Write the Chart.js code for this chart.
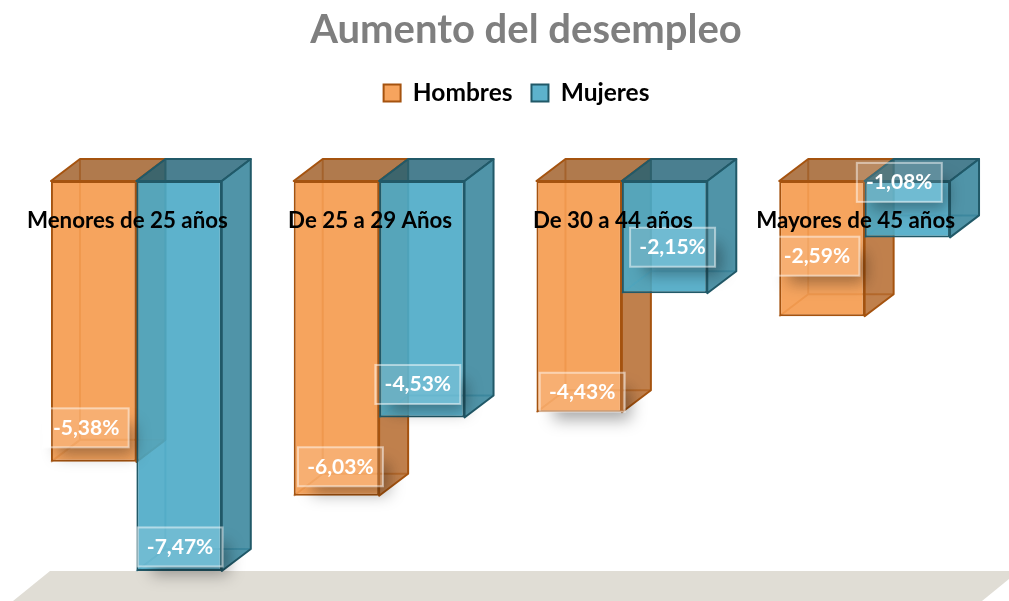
<!DOCTYPE html>
<html><head><meta charset="utf-8">
<style>html,body{margin:0;padding:0;background:#fff;overflow:hidden}#w{width:1009px;height:601px}</style>
<script src="https://cdn.jsdelivr.net/npm/chart.js@4"></script>
</head><body><div id="w"><canvas id="c" width="1009" height="601"></canvas></div>
<script>
const chartTitle = 'Aumento del desempleo';
const categories = ['Menores de 25 años', 'De 25 a 29 Años', 'De 30 a 44 años', 'Mayores de 45 años'];
const hombres = [-5.38, -6.03, -4.43, -2.59];
const mujeres = [-7.47, -4.53, -2.15, -1.08];
const hombresLabelShift = [[-7.5,-34],[4,-29],[3,-20],[-5,-60]];
const mujeresLabelShift = [[1,-24],[-4,-33],[8,-46],[-8,-55]];
const FONT = 'Lato, "Open Sans", sans-serif';
const DX = 29, DY = 22;
const skins = [
 {top:'rgba(142,65,2,.7)', side:'rgba(165,74,0,.7)', edge:'#a5530f', inner:'rgba(165,80,10,.45)'},
 {top:'rgba(29,95,116,.8)', side:'rgba(36,121,146,.8)', edge:'#215968', inner:'rgba(35,120,150,.45)'}
];
function poly(ctx, pts){ctx.beginPath();pts.forEach((p,i)=>i?ctx.lineTo(p[0],p[1]):ctx.moveTo(p[0],p[1]));ctx.closePath();}
function faces(chart, index){
  const ctx = chart.ctx, s = skins[index];
  chart.getDatasetMeta(index).data.forEach(b=>{
   const l=b.x-b.width/2, r=b.x+b.width/2, t=Math.min(b.y,b.base), bt=Math.max(b.y,b.base);
   ctx.save();
   ctx.lineWidth=2; ctx.lineJoin='round';
   ctx.strokeStyle=s.inner;
   ctx.beginPath();
   ctx.moveTo(l+DX,t-DY);ctx.lineTo(l+DX,bt-DY);ctx.lineTo(r+DX,bt-DY);
   ctx.moveTo(l,bt);ctx.lineTo(l+DX,bt-DY);ctx.stroke();
   ctx.strokeStyle=s.edge;
   ctx.fillStyle=s.top;poly(ctx,[[l,t],[l+DX,t-DY],[r+DX,t-DY],[r,t]]);ctx.fill();ctx.stroke();
   ctx.fillStyle=s.side;poly(ctx,[[r,t],[r+DX,t-DY],[r+DX,bt-DY],[r,bt]]);ctx.fill();ctx.stroke();
   ctx.restore();
  });
}
const threeD = {
 id:'threeD',
 afterLayout(chart){
  chart.titleBlock.left += 25.5; chart.titleBlock.right += 25.5;
  chart.legend.left += 16; chart.legend.right += 16;
 },
 beforeDatasetsDraw(chart){
  const ctx = chart.ctx, y = chart.scales.y.getPixelForValue(Math.min(...mujeres));
  ctx.save();ctx.fillStyle='#e0ddd5';
  poly(ctx,[[50,y],[1019,y],[982,601],[13,601]]);ctx.fill();ctx.restore();
 },
 // Chart.js paints the last dataset first; the teal one must end up on top,
 // so it is held back and painted right after the orange one.
 beforeDatasetDraw(chart,args){
  if(args.index===1) return false;
  faces(chart,0);
 },
 afterDatasetDraw(chart,args){
  if(args.index!==0) return;
  faces(chart,1);
  chart.getDatasetMeta(1).controller.draw();
 },
 afterDatasetsDraw(chart){
  const ctx = chart.ctx, W=85, H=39;
  chart.data.datasets.forEach((ds,i)=>{
   const meta = chart.getDatasetMeta(i), shift = i===0?hombresLabelShift:mujeresLabelShift;
   meta.data.forEach((b,j)=>{
    const cx=b.x+shift[j][0], cy=b.y+shift[j][1], x=cx-W/2, y=cy-H/2;
    ctx.save();
    ctx.beginPath();ctx.rect(0,0,1009,601);ctx.rect(x,y,W,H);ctx.clip('evenodd');
    ctx.shadowColor='rgba(0,0,0,.34)';ctx.shadowBlur=16;ctx.shadowOffsetX=10;ctx.shadowOffsetY=12;
    ctx.fillStyle='#000';ctx.fillRect(x+4,y+4,W-8,H-8);
    ctx.restore();
    ctx.save();
    ctx.fillStyle='rgba(255,255,255,.12)';ctx.fillRect(x,y,W,H);
    ctx.strokeStyle='rgba(255,255,255,.5)';ctx.lineWidth=2;ctx.strokeRect(x,y,W,H);
    ctx.fillStyle='#fff';ctx.font='bold 21px '+FONT;ctx.textAlign='center';ctx.textBaseline='middle';
    ctx.fillText(ds.data[j].toFixed(2).replace('.',',')+'%',cx,cy);
    ctx.restore();
   });
  });
 }
};
new Chart(document.getElementById('c'),{
 type:'bar',
 data:{labels:categories,datasets:[
  {label:'Hombres',data:hombres,backgroundColor:'rgba(244,148,66,.85)',borderColor:'#a5530f',borderWidth:2,borderSkipped:false,
   categoryPercentage:.7037,barPercentage:1},
  {label:'Mujeres',data:mujeres,backgroundColor:'rgba(75,170,198,.9)',borderColor:'#215968',borderWidth:2,borderSkipped:false,
   categoryPercentage:.7037,barPercentage:1}
 ]},
 options:{
  responsive:false,animation:false,
  layout:{padding:{left:15,right:23,top:0,bottom:28.5}},
  plugins:{
   title:{display:true,text:chartTitle,color:'#7f7f7f',font:{family:FONT,weight:'bold',size:40,lineHeight:1.2},padding:{top:6,bottom:7.75}},
   legend:{display:true,position:'top',labels:{color:'#000',font:{family:FONT,weight:'bold',size:24.5},boxWidth:17,boxHeight:17,padding:19}},
   tooltip:{enabled:false}
  },
  scales:{
   x:{position:'top',grid:{display:false},border:{display:false},
      afterFit(s){s.height=65.75;},
      ticks:{color:'#000',font:{family:FONT,weight:'bold',size:22.3},mirror:true,padding:26,z:2,labelOffset:-9,autoSkip:false,maxRotation:0,minRotation:0}},
   y:{display:false,min:-7.5,max:0}
  }
 },
 plugins:[threeD]
});
</script></body></html>
